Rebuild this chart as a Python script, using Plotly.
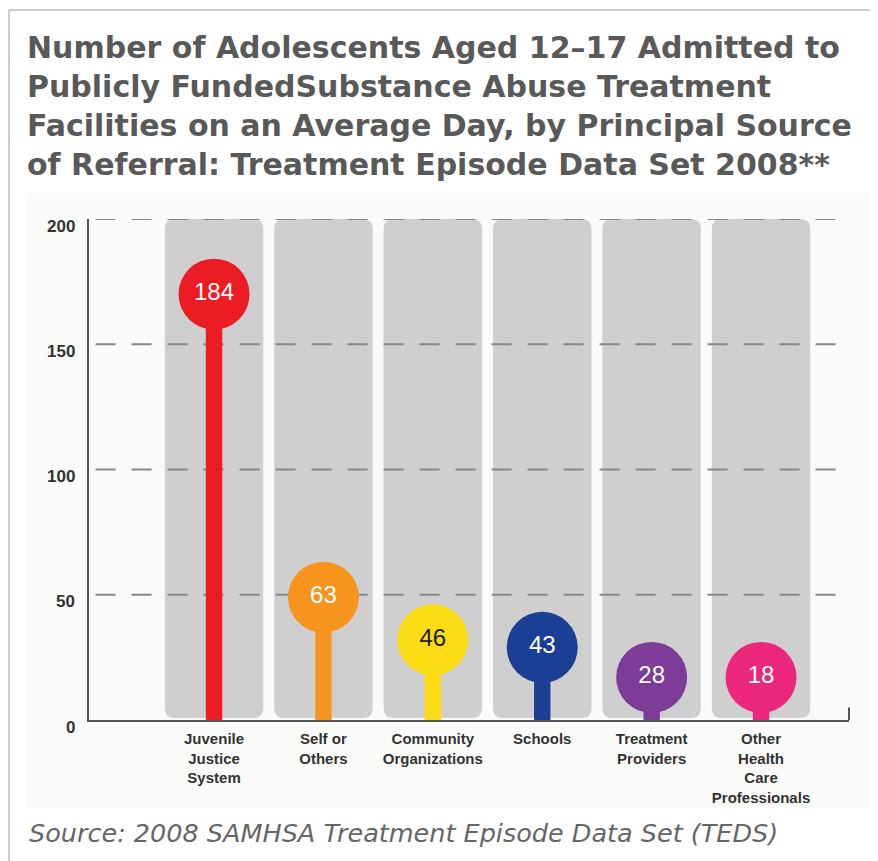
import plotly.graph_objects as go

# data
categories = [
    "Juvenile<br>Justice<br>System",
    "Self or<br>Others",
    "Community<br>Organizations",
    "Schools",
    "Treatment<br>Providers",
    "Other<br>Health<br>Care<br>Professionals",
]
values = [184, 63, 46, 43, 28, 18]
colors = ["#ec1c24", "#f7941d", "#fbdc14", "#1b3f94", "#7d3c98", "#ec287c"]
label_colors = ["white", "white", "#222222", "white", "white", "white"]
y_ticks = [0, 50, 100, 150, 200]

title_text = ("Number of Adolescents Aged 12\u201317 Admitted to<br>"
              "Publicly FundedSubstance Abuse Treatment<br>"
              "Facilities on an Average Day, by Principal Source<br>"
              "of Referral: Treatment Episode Data Set 2008**")
source_text = "Source: 2008 SAMHSA Treatment Episode Data Set (TEDS)"

xs = list(range(len(categories)))
# circle top sits at the value, circle radius ~14 units, kept above the axis
r_units = 14
centers = [max(v - r_units, r_units + 3) for v in values]

title_font = "DejaVu Sans, Verdana, sans-serif"
label_font = "Liberation Sans, Arial, sans-serif"
panel_color = "#fafbf9"
grid_color = "#888888"
x_range = [-1.143, 5.804]

fig = go.Figure()

# stems
fig.add_trace(go.Bar(
    x=xs, y=centers, width=0.15,
    marker=dict(color=colors, line_width=0),
    hoverinfo="skip",
))

# circles with the value inside
fig.add_trace(go.Scatter(
    x=xs, y=centers, mode="markers+text",
    marker=dict(size=71, color=colors, line_width=0),
    text=[str(v) for v in values],
    textposition="middle center",
    textfont=dict(family=label_font, size=24, color=label_colors),
    customdata=values,
    hovertemplate="%{customdata}<extra></extra>",
))

# rounded grey columns behind each category
hw = 0.45
rx, ry = 0.09, 4
for x in xs:
    x0, x1, y0, y1 = x - hw, x + hw, 0.8, 200
    path = (f"M {x0+rx},{y0} L {x1-rx},{y0} Q {x1},{y0} {x1},{y0+ry} "
            f"L {x1},{y1-ry} Q {x1},{y1} {x1-rx},{y1} "
            f"L {x0+rx},{y1} Q {x0},{y1} {x0},{y1-ry} "
            f"L {x0},{y0+ry} Q {x0},{y0} {x0+rx},{y0} Z")
    fig.add_shape(type="path", path=path, fillcolor="#cfcfcf",
                  line_width=0, layer="below")

# dashed gridlines drawn over the grey columns
for t in y_ticks[1:]:
    fig.add_shape(type="line", xref="x", yref="y",
                  x0=x_range[0] + 0.06, x1=x_range[1], y0=t, y1=t,
                  layer="below",
                  line=dict(color=grid_color, width=2, dash="20px,16px"))

# tick label annotations (sit a little below their gridline)
for t in y_ticks:
    fig.add_annotation(text=str(t), xref="paper", yref="y", x=0, y=t,
                       xanchor="right", yanchor="middle", xshift=-12, yshift=-7,
                       showarrow=False,
                       font=dict(family=label_font, size=17, color="#333333",
                                 weight="bold"))

# light panel behind the chart and the page frame
fig.add_shape(type="rect", xref="paper", yref="paper",
              x0=-0.0816, x1=1.05, y0=-0.1756, y1=1.052,
              fillcolor=panel_color, line_width=0, layer="below")
fig.add_shape(type="line", xref="paper", yref="paper",
              x0=-0.1053, x1=-0.1053, y0=-0.3, y1=1.417,
              line=dict(color="#cccccc", width=2))
fig.add_shape(type="line", xref="paper", yref="paper",
              x0=-0.1053, x1=1.05, y0=1.417, y1=1.417,
              line=dict(color="#cccccc", width=2))
# small end tick on the right of the baseline
fig.add_shape(type="line", xref="paper", yref="y",
              x0=1, x1=1, y0=0, y1=5,
              line=dict(color="#555555", width=2))

fig.add_annotation(
    text=source_text, xref="paper", yref="paper",
    x=-0.0816, y=-0.2255, xanchor="left", yanchor="middle",
    showarrow=False,
    font=dict(family=title_font, size=25.5, color="#666666", style="italic"),
)

# page has an 8px body margin, so the figure is 8px smaller than the window
fig.update_layout(
    width=870, height=853,
    margin=dict(l=81, r=29, t=211, b=141),
    paper_bgcolor="white",
    plot_bgcolor=panel_color,
    showlegend=False,
    title=dict(
        text=title_text, xref="container", yref="container",
        x=19 / 870, xanchor="left", y=1 - 50 / 853, yanchor="top",
        font=dict(family=title_font, size=30, color="#595959", weight="bold"),
    ),
    xaxis=dict(
        range=x_range, tickvals=xs, ticktext=categories,
        showgrid=False, zeroline=False,
        showline=True, linecolor="#555555", linewidth=2,
        ticks="", ticklabelstandoff=4,
        tickfont=dict(family=label_font, size=15,
                      color="#333333", weight="bold"),
    ),
    yaxis=dict(
        range=[0, 200], showgrid=False, zeroline=False,
        showticklabels=False,
        showline=True, linecolor="#555555", linewidth=2, ticks="",
    ),
)

fig.write_html("out.html")
